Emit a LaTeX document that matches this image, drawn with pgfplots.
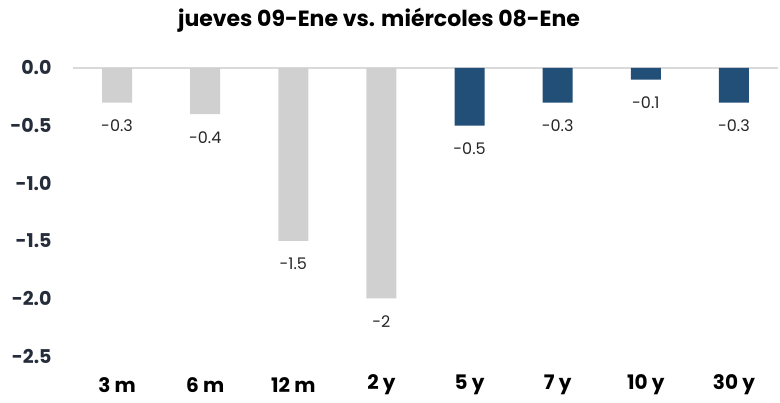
\documentclass[border=0pt]{standalone}
\usepackage{pgfplots}
\pgfplotsset{compat=1.18}
\usepackage{fontspec}
\setmainfont{Poppins}
\definecolor{barblue}{HTML}{214F78}
\definecolor{bargray}{HTML}{D0D0D0}
\definecolor{ticktext}{HTML}{262D3A}
\begin{document}
\begin{tikzpicture}[x=1pt,y=1pt]
\useasboundingbox (0,0) rectangle (780,403);
\node[font=\bfseries\fontsize{22}{25}\selectfont, text=black] at (379,383) {jueves 09-Ene vs. miércoles 08-Ene};
\begin{axis}[
  at={(73pt,47pt)}, anchor=south west,
  scale only axis, width=705pt, height=288pt,
  xmin=-0.5, xmax=7.5, ymin=-2.5, ymax=0,
  axis lines=none,
  clip=false,
  xtick=\empty, ytick=\empty,
  ybar, bar width=30pt, bar shift=0pt,
  /pgf/number format/assume math mode=true,
]
\draw[color=black!15, line width=1.2pt] (axis cs:-0.5,0) -- (axis cs:7.5,0);
\addplot[fill=bargray, draw=none, nodes near coords, point meta=explicit symbolic,
  nodes near coords style={anchor=north, yshift=-14pt, font=\fontsize{16}{19}\selectfont, text=black!85}]
  table[meta=lab] {
x y lab
0 -0.3 -0.3
1 -0.4 -0.4
2 -1.5 -1.5
3 -2.0 -2
};
\addplot[fill=barblue, draw=none, nodes near coords, point meta=explicit symbolic,
  nodes near coords style={anchor=north, yshift=-14pt, font=\fontsize{16}{19}\selectfont, text=black!85}]
  table[meta=lab] {
x y lab
4 -0.5 -0.5
5 -0.3 -0.3
6 -0.1 -0.1
7 -0.3 -0.3
};
\foreach \v/\l in {0/0.0,-0.5/-0.5,-1/-1.0,-1.5/-1.5,-2/-2.0,-2.5/-2.5}{
  \edef\tmp{\noexpand\node[anchor=east, font=\noexpand\bfseries\noexpand\fontsize{19}{22}\noexpand\selectfont, text=ticktext] at (axis cs:-0.5,\v) [xshift=-18pt] {\l};}
  \tmp
}
\foreach \i/\l in {0/3 m,1/6 m,2/12 m,3/2 y,4/5 y,5/7 y,6/10 y,7/30 y}{
  \edef\tmp{\noexpand\node[font=\noexpand\bfseries\noexpand\fontsize{20}{23}\noexpand\selectfont, text=black] at (axis cs:\i,-2.5) [yshift=-29pt] {\l};}
  \tmp
}
\end{axis}
\end{tikzpicture}
\end{document}
